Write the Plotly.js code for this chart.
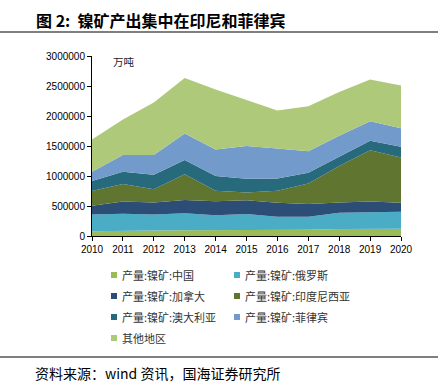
<!DOCTYPE html>
<html>
<head>
<meta charset="utf-8">
<script src="https://cdn.plot.ly/plotly-3.0.1.min.js"></script>
<style>
html,body{margin:0;padding:0;background:#fff;}
#chart{width:440px;height:385px;}
</style>
</head>
<body>
<div id="chart"></div>
<script>
var years = [2010, 2011, 2012, 2013, 2014, 2015, 2016, 2017, 2018, 2019, 2020];
var seriesNames = ["产量:镍矿:中国", "产量:镍矿:俄罗斯", "产量:镍矿:加拿大", "产量:镍矿:印度尼西亚", "产量:镍矿:澳大利亚", "产量:镍矿:菲律宾", "其他地区"];
var china       = [78000, 90000, 90000, 95000, 95000, 100000, 100000, 105000, 116000, 122000, 122000];
var russia      = [282000, 280000, 270000, 285000, 250000, 266000, 220000, 215000, 272000, 278000, 283000];
var canada      = [145000, 207000, 200000, 220000, 235000, 228000, 235000, 212000, 172000, 177000, 150000];
var indonesia   = [244000, 288000, 220000, 430000, 175000, 133000, 200000, 345000, 605000, 853000, 755000];
var australia   = [166000, 205000, 240000, 235000, 245000, 228000, 205000, 176000, 155000, 156000, 176000];
var philippines = [155000, 280000, 330000, 445000, 440000, 545000, 500000, 361000, 350000, 327000, 311000];
var others      = [539000, 590000, 875000, 924000, 1000000, 763000, 630000, 749000, 730000, 694000, 710000];
var yTicks = [0, 500000, 1000000, 1500000, 2000000, 2500000, 3000000];

var allValues = [china, russia, canada, indonesia, australia, philippines, others];
var colors = ["#9bbb59", "#4bacc6", "#2c4d75", "#5f7530", "#276a7c", "#729aca", "#afc97a"];

var traces = allValues.map(function(v, i){
  return {
    x: years, y: v, name: seriesNames[i], type: "scatter", mode: "lines",
    stackgroup: "one", line: {width: 0, color: colors[i]}, fillcolor: colors[i],
    showlegend: false
  };
});

var cjk = "'Noto Sans CJK SC', 'Noto Sans', sans-serif";
var L = 92, T = 56, PW = 309, PH = 180;
function px(x){ return (x - L) / PW; }
function py(y){ return (T + PH - y) / PH; }

var annotations = [
  {text: "<b>图 2:  镍矿产出集中在印尼和菲律宾</b>", xref: "paper", yref: "paper",
   x: px(34), y: py(20), xanchor: "left", yanchor: "middle",
   showarrow: false, font: {family: cjk, size: 16, color: "#000"}},
  {text: "万吨", xref: "paper", yref: "paper",
   x: px(111), y: py(61), xanchor: "left", yanchor: "middle",
   showarrow: false, font: {family: cjk, size: 10.5, color: "#222"}},
  {text: "资料来源：wind 资讯，国海证券研究所", xref: "paper", yref: "paper",
   x: px(33), y: py(373), xanchor: "left", yanchor: "middle",
   showarrow: false, font: {family: cjk, size: 14, color: "#000"}}
];
var shapes = [
  {type: "line", xref: "paper", yref: "paper", x0: px(0), x1: px(438),
   y0: py(32), y1: py(32), line: {color: "#555", width: 1.3}},
  {type: "line", xref: "paper", yref: "paper", x0: px(0), x1: px(438),
   y0: py(357), y1: py(357), line: {color: "#555", width: 1.3}}
];

// legend built from the series names and colours
var legCols = [114, 237], legRows = [275, 296, 317, 338];
seriesNames.forEach(function(name, i){
  var cx = legCols[i % 2], cy = legRows[Math.floor(i / 2)];
  shapes.push({type: "rect", xref: "paper", yref: "paper",
    x0: px(cx - 3), x1: px(cx + 3), y0: py(cy + 3), y1: py(cy - 3),
    fillcolor: colors[i], line: {width: 0}});
  annotations.push({text: name, xref: "paper", yref: "paper",
    x: px(cx + 6), y: py(cy), xanchor: "left", yanchor: "middle",
    showarrow: false, font: {family: cjk, size: 11, color: "#333"}});
});

var layout = {
  width: 440, height: 385,
  margin: {l: L, r: 440 - L - PW, t: T, b: 385 - T - PH},
  paper_bgcolor: "#fff", plot_bgcolor: "#fff",
  showlegend: false,
  xaxis: {
    range: [2010, 2020], tickvals: years, ticktext: years.map(String),
    showline: true, linecolor: "#000", linewidth: 1,
    ticks: "outside", ticklen: 4, tickcolor: "#000",
    showgrid: false, zeroline: false,
    tickfont: {family: "Arial, 'Liberation Sans', sans-serif", size: 10, color: "#000"}
  },
  yaxis: {
    range: [0, 3000000], tickvals: yTicks, ticktext: yTicks.map(String),
    showline: true, linecolor: "#000", linewidth: 1,
    ticks: "outside", ticklen: 4, tickcolor: "#000",
    showgrid: false, zeroline: false,
    tickfont: {family: "Arial, 'Liberation Sans', sans-serif", size: 10, color: "#000"}
  },
  annotations: annotations,
  shapes: shapes
};

Plotly.newPlot("chart", traces, layout, {displayModeBar: false, staticPlot: true});
</script>
</body>
</html>
